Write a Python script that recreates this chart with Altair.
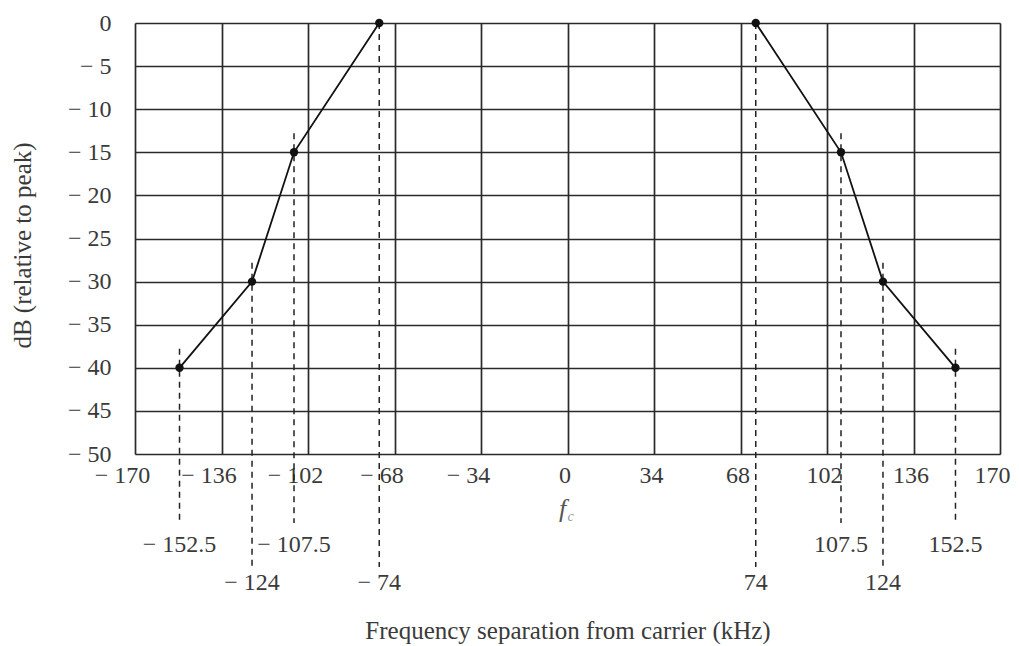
import altair as alt
import pandas as pd

# ---- data ----
freq_left = [-152.5, -124, -107.5, -74]
db_left = [-40, -30, -15, 0]
freq_right = [74, 107.5, 124, 152.5]
db_right = [0, -15, -30, -40]
row_left = [1, 2, 1, 2]
row_right = [2, 1, 2, 1]
label_left = ["\u2212 152.5", "\u2212 124", "\u2212 107.5", "\u2212 74"]
label_right = ["74", "107.5", "124", "152.5"]
x_ticks = [-170, -136, -102, -68, -34, 0, 34, 68, 102, 136, 170]
y_ticks = [0, -5, -10, -15, -20, -25, -30, -35, -40, -45, -50]

FONT = "Liberation Serif"
INK = "#2a2a2a"
TXT = "#3a3a3a"

df = pd.DataFrame({
    "freq": freq_left + freq_right,
    "db": db_left + db_right,
    "side": ["L"] * 4 + ["R"] * 4,
    "row": row_left + row_right,
    "label": label_left + label_right,
})
fc = pd.DataFrame({"freq": [0]})

W, H = 865, 431

xscale = alt.Scale(domain=[-170, 170], nice=False, zero=False)
yscale = alt.Scale(domain=[-50, 0], nice=False, zero=False)

xaxis = alt.Axis(
    values=x_ticks, grid=True, ticks=False, domain=False,
    gridColor=INK, gridWidth=1.7, gridOpacity=1,
    labelFont=FONT, labelFontSize=24, labelColor=TXT, labelPadding=9,
    labelFlush=False, labelOverlap=False, labelBound=False,
    labelOffset={"condition": [{"test": "datum.value < 0", "value": -13},
                               {"test": "datum.value >= 170", "value": -8}], "value": -3},
    labelExpr="datum.value < 0 ? '\u2212 ' + abs(datum.value) : '' + datum.value",
    title="Frequency separation from carrier (kHz)", titleFont=FONT, titleFontSize=25,
    titleFontWeight="normal", titleColor=TXT, titleY=176, titleBaseline="middle",
)
yaxis = alt.Axis(
    values=y_ticks, grid=True, ticks=False, domain=False,
    gridColor=INK, gridWidth=1.7, gridOpacity=1,
    labelFont=FONT, labelFontSize=24, labelColor=TXT, labelPadding=24,
    labelFlush=False, labelOverlap=False,
    labelExpr="datum.value < 0 ? '\u2212 ' + abs(datum.value) : '' + datum.value",
    title="dB (relative to peak)", titleFont=FONT, titleFontSize=25,
    titleFontWeight="normal", titleColor=TXT, titleX=-113, titleY=222, titleBaseline="middle",
)

base = alt.Chart(df)

lines = base.mark_line(color="#111111", strokeWidth=1.8).encode(
    x=alt.X("freq:Q", scale=xscale, axis=xaxis),
    y=alt.Y("db:Q", scale=yscale, axis=yaxis),
    detail="side:N",
)
points = base.mark_point(filled=True, shape="circle", size=70, color="#111111", opacity=1).encode(
    x=alt.X("freq:Q", scale=xscale), y=alt.Y("db:Q", scale=yscale)
)

dash = dict(color="#222222", strokeDash=[6, 5], strokeWidth=1.5, clip=False)
rules1 = base.transform_filter("datum.row == 1").transform_calculate(
    top="min(datum.db + 2.2, 0)"
).mark_rule(**dash).encode(
    x=alt.X("freq:Q", scale=xscale), y=alt.Y("top:Q", scale=yscale), y2=alt.value(500)
)
rules2 = base.transform_filter("datum.row == 2").transform_calculate(
    top="min(datum.db + 2.2, 0)"
).mark_rule(**dash).encode(
    x=alt.X("freq:Q", scale=xscale), y=alt.Y("top:Q", scale=yscale), y2=alt.value(544)
)

txt = dict(font=FONT, fontSize=24, color=TXT, baseline="middle", clip=False)
text1 = base.transform_filter("datum.row == 1").mark_text(**txt).encode(
    x=alt.X("freq:Q", scale=xscale), y=alt.value(522), text="label:N"
)
text2 = base.transform_filter("datum.row == 2").mark_text(**txt).encode(
    x=alt.X("freq:Q", scale=xscale), y=alt.value(560), text="label:N"
)

fc_f = alt.Chart(fc).mark_text(font=FONT, fontSize=26, fontStyle="italic", color="#555555",
                                baseline="middle", clip=False, dx=-5).encode(
    x=alt.X("freq:Q", scale=xscale), y=alt.value(486), text=alt.value("f")
)
fc_c = alt.Chart(fc).mark_text(font=FONT, fontSize=14, fontStyle="italic", color="#999999",
                                baseline="middle", clip=False, dx=3).encode(
    x=alt.X("freq:Q", scale=xscale), y=alt.value(494), text=alt.value("c")
)

chart = alt.layer(rules1, rules2, lines, points, text1, text2, fc_f, fc_c).properties(
    width=W, height=H,
    autosize="none",
    padding={"left": 127, "top": 15, "right": 11, "bottom": 190},
).configure_view(stroke=INK, strokeWidth=1.7).configure(background="white")

chart.save("out.html", embed_options={"renderer": "svg", "actions": False})
